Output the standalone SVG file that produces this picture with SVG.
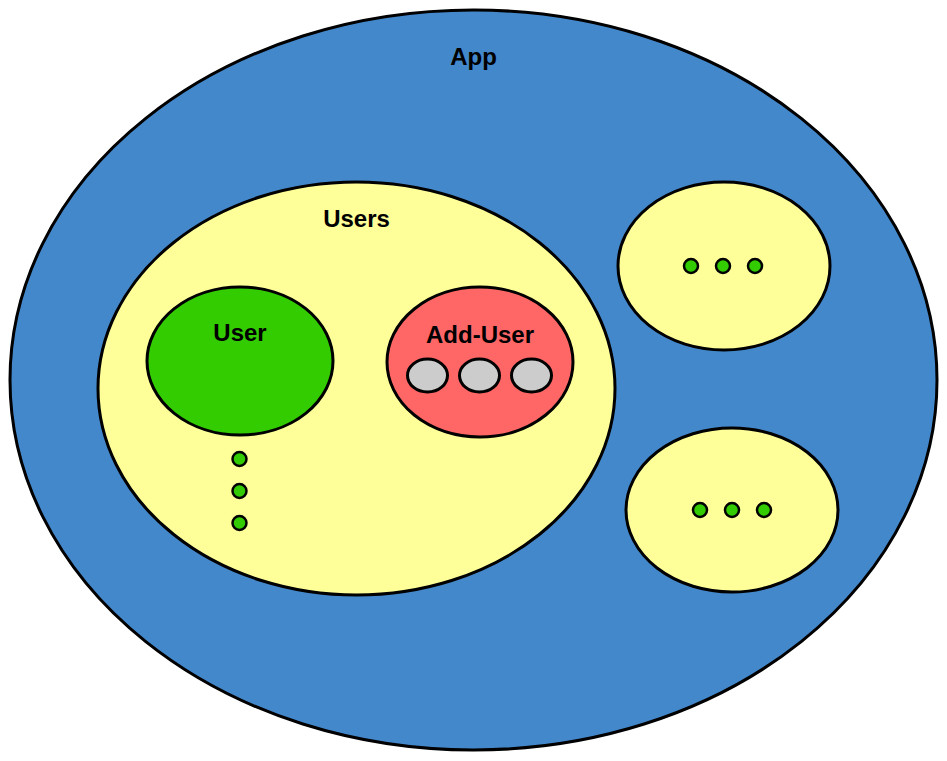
<svg xmlns="http://www.w3.org/2000/svg" width="947" height="761" viewBox="0 0 947 761">
<style>
.o{stroke:#000;stroke-width:3}
.b{fill:#4488cc}
.y{fill:#ffff99}
.g{fill:#33cc00}
.r{fill:#ff6666}
.s{fill:#cccccc}
.d{fill:#33cc00;stroke:#000;stroke-width:2.5}
text{font-family:"Liberation Sans",Arial,sans-serif;font-weight:bold;font-size:24px;text-anchor:middle;fill:#000}
</style>
<rect width="947" height="761" fill="#fff"/>
<g id="app"><ellipse class="o b" cx="473.5" cy="380" rx="463.5" ry="370"/><text x="473.5" y="65">App</text></g>
<g id="users"><ellipse class="o y" cx="356.5" cy="388.5" rx="258.5" ry="206.5"/><text x="356.5" y="227">Users</text></g>
<g id="user"><ellipse class="o g" cx="240" cy="361" rx="93" ry="74"/><text x="240" y="341">User</text></g>
<g id="add-user"><ellipse class="o r" cx="480" cy="362" rx="93" ry="75"/><text x="480" y="343">Add-User</text>
<ellipse class="o s" cx="427.5" cy="375.5" rx="20" ry="16.5"/>
<ellipse class="o s" cx="479.5" cy="375.5" rx="20" ry="16.5"/>
<ellipse class="o s" cx="531.5" cy="375.5" rx="20" ry="16.5"/></g>
<g id="user-dots"><circle class="d" cx="239.5" cy="459" r="7"/><circle class="d" cx="239.5" cy="491" r="7"/><circle class="d" cx="239.5" cy="523" r="7"/></g>
<g id="module-top"><ellipse class="o y" cx="724" cy="266" rx="106" ry="84"/>
<circle class="d" cx="691" cy="266" r="7"/><circle class="d" cx="723" cy="266" r="7"/><circle class="d" cx="755" cy="266" r="7"/></g>
<g id="module-bottom"><ellipse class="o y" cx="732" cy="510" rx="106" ry="82"/>
<circle class="d" cx="700" cy="510" r="7"/><circle class="d" cx="732" cy="510" r="7"/><circle class="d" cx="764" cy="510" r="7"/></g>
<g id="connectors"></g>
</svg>
